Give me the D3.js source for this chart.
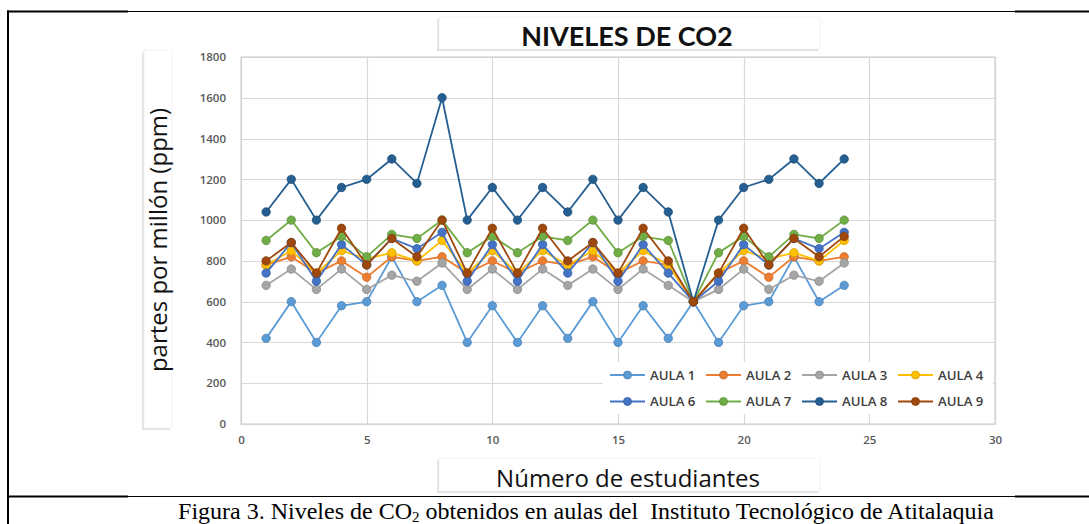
<!DOCTYPE html>
<html><head><meta charset="utf-8">
<script src="https://cdn.jsdelivr.net/npm/d3@7"></script>
<style>html,body{margin:0;padding:0;background:#fff;}svg{display:block;}</style>
</head><body>
<svg id="chart" width="1089" height="524"></svg>
<script>
const students = [1,2,3,4,5,6,7,8,9,10,11,12,13,14,15,16,17,18,19,20,21,22,23,24];
const aula1 = [420,600,400,580,600,820,600,680,400,580,400,580,420,600,400,580,420,600,400,580,600,820,600,680];
const aula2 = [780,820,740,800,720,820,800,820,740,800,740,800,780,820,740,800,780,600,740,800,720,820,800,820];
const aula3 = [680,760,660,760,660,730,700,790,660,760,660,760,680,760,660,760,680,600,660,760,660,730,700,790];
const aula4 = [780,850,740,850,810,840,800,900,740,850,740,850,780,850,740,850,780,600,740,850,810,840,800,900];
const aula6 = [740,890,700,880,780,910,860,940,700,880,700,880,740,890,700,880,740,600,700,880,780,910,860,940];
const aula7 = [900,1000,840,920,820,930,910,1000,840,920,840,920,900,1000,840,920,900,600,840,920,820,930,910,1000];
const aula8 = [1040,1200,1000,1160,1200,1300,1180,1600,1000,1160,1000,1160,1040,1200,1000,1160,1040,600,1000,1160,1200,1300,1180,1300];
const aula9 = [800,890,740,960,780,910,820,1000,740,960,740,960,800,890,740,960,800,600,740,960,780,910,820,920];
const seriesNames = ["AULA 1","AULA 2","AULA 3","AULA 4","AULA 6","AULA 7","AULA 8","AULA 9"];
const seriesColors = ["#5B9BD5","#ED7D31","#A5A5A5","#FFC000","#4472C4","#70AD47","#255E91","#9E480E"];
const yTicks = [0,200,400,600,800,1000,1200,1400,1600,1800];
const xTicks = [0,5,10,15,20,25,30];
const title = "NIVELES DE CO2";
const yLabel = "partes por millón (ppm)";
const xLabel = "Número de estudiantes";

const seriesValues = [aula1,aula2,aula3,aula4,aula6,aula7,aula8,aula9];
const series = seriesNames.map((n,i)=>({name:n,color:seriesColors[i],values:seriesValues[i].map((v,j)=>({x:students[j],y:v}))}));

const svg = d3.select("#chart");
const L=241, R=995, T=57, B=424;
const x = d3.scaleLinear().domain([0,30]).range([L,R]);
const y = d3.scaleLinear().domain([0,1800]).range([B,T]);

// outer frame
const frame = svg.append("g");
frame.append("line").attr("x1",8).attr("x2",8).attr("y1",10.5).attr("y2",524).attr("stroke","#000").attr("stroke-width",2);
[11.5,496.5].forEach(yy=>{
  frame.append("line").attr("x1",7).attr("x2",1089).attr("y1",yy).attr("y2",yy).attr("stroke","#000").attr("stroke-width",1.2);
  frame.append("line").attr("x1",7).attr("x2",128).attr("y1",yy).attr("y2",yy).attr("stroke","#000").attr("stroke-width",2);
  frame.append("line").attr("x1",1015).attr("x2",1089).attr("y1",yy).attr("y2",yy).attr("stroke","#000").attr("stroke-width",2);
});

// shadow helper boxes
function box(x0,y0,w,h){
  svg.append("rect").attr("x",x0-2).attr("y",y0+2).attr("width",w).attr("height",h).attr("fill","#d0d0d0").attr("opacity",0.6);
  svg.append("rect").attr("x",x0).attr("y",y0).attr("width",w).attr("height",h).attr("fill","#fff").attr("stroke","#f0f0f0").attr("stroke-width",0.8);
}
box(439,17,381,32);
box(144,50,28,378);
box(439,458,381,33);

// gridlines
const g = svg.append("g");
g.selectAll(".hg").data(yTicks).enter().append("line")
  .attr("x1",L).attr("x2",R).attr("y1",d=>Math.round(y(d))+0.5).attr("y2",d=>Math.round(y(d))+0.5)
  .attr("stroke","#d9d9d9").attr("stroke-width",1.2);
g.selectAll(".vg").data(xTicks).enter().append("line")
  .attr("y1",T).attr("y2",B).attr("x1",d=>Math.round(x(d))+0.5).attr("x2",d=>Math.round(x(d))+0.5)
  .attr("stroke","#d9d9d9").attr("stroke-width",1.2);
g.append("rect").attr("x",L).attr("y",T).attr("width",R-L).attr("height",B-T).attr("fill","none").attr("stroke","#d0d0d0").attr("stroke-width",1.2);

// axes labels
const yAxis = d3.axisLeft(y).tickValues(yTicks).tickFormat(d3.format("d")).tickSize(0).tickPadding(15);
const ya = svg.append("g").attr("transform",`translate(${L},0)`).call(yAxis);
ya.select(".domain").remove();
ya.selectAll("text").attr("font-family","Open Sans, sans-serif").attr("font-size","11.5px").attr("font-weight","600").attr("fill","#595959");
const xAxis = d3.axisBottom(x).tickValues(xTicks).tickFormat(d3.format("d")).tickSize(0).tickPadding(12);
const xa = svg.append("g").attr("transform",`translate(0,${B})`).call(xAxis);
xa.select(".domain").remove();
xa.selectAll("text").attr("font-family","Open Sans, sans-serif").attr("font-size","11.5px").attr("font-weight","600").attr("fill","#595959");

// lines
const line = d3.line().x(d=>x(d.x)).y(d=>y(d.y));
const sg = svg.append("g");
series.forEach(s=>{
  const gg = sg.append("g");
  gg.append("path").datum(s.values).attr("d",line).attr("fill","none").attr("stroke",s.color).attr("stroke-width",1.8);
  gg.selectAll("circle").data(s.values).enter().append("circle")
    .attr("cx",d=>x(d.x)).attr("cy",d=>y(d.y)).attr("r",4.2)
    .attr("fill",s.color).attr("stroke",d3.color(s.color).darker(0.5)).attr("stroke-width",0.8);
});

// legend
const lg = svg.append("g");
lg.append("rect").attr("x",603).attr("y",362).attr("width",390).attr("height",52).attr("fill","#fff");
series.forEach((s,i)=>{
  const col = i%4, row = Math.floor(i/4);
  const lx = 610 + col*96, ly = 375 + row*26.5;
  lg.append("line").attr("x1",lx).attr("x2",lx+35).attr("y1",ly).attr("y2",ly).attr("stroke",s.color).attr("stroke-width",1.8);
  lg.append("circle").attr("cx",lx+17.5).attr("cy",ly).attr("r",4).attr("fill",s.color).attr("stroke",d3.color(s.color).darker(0.5)).attr("stroke-width",0.8);
  lg.append("text").attr("x",lx+40).attr("y",ly+4.5).text(s.name)
    .attr("font-family","Open Sans, sans-serif").attr("font-size","13.2px").attr("font-weight","600").attr("fill","#404040");
});

// titles
svg.append("text").attr("x",627).attr("y",46).attr("text-anchor","middle").text(title)
  .attr("font-family","Lato, sans-serif").attr("font-weight","700").attr("font-size","27px").attr("fill","#111");
svg.append("text").attr("transform","translate(167,240) rotate(-90)").attr("text-anchor","middle").text(yLabel)
  .attr("font-family","Open Sans, sans-serif").attr("font-size","24px").attr("fill","#111");
svg.append("text").attr("x",628).attr("y",487).attr("text-anchor","middle").text(xLabel)
  .attr("font-family","Open Sans, sans-serif").attr("font-size","24px").attr("fill","#111");

// caption
const cap = svg.append("text").attr("x",586).attr("y",519).attr("text-anchor","middle")
  .attr("font-family","Liberation Serif, Times New Roman, serif").attr("font-size","24px").attr("fill","#000");
cap.append("tspan").text("Figura 3. Niveles de CO");
cap.append("tspan").text("2").attr("font-size","15px").attr("dy","3");
cap.append("tspan").text(" obtenidos en aulas del  Instituto Tecnológico de Atitalaquia").attr("dy","-3").attr("xml:space","preserve");
</script>
</body></html>
